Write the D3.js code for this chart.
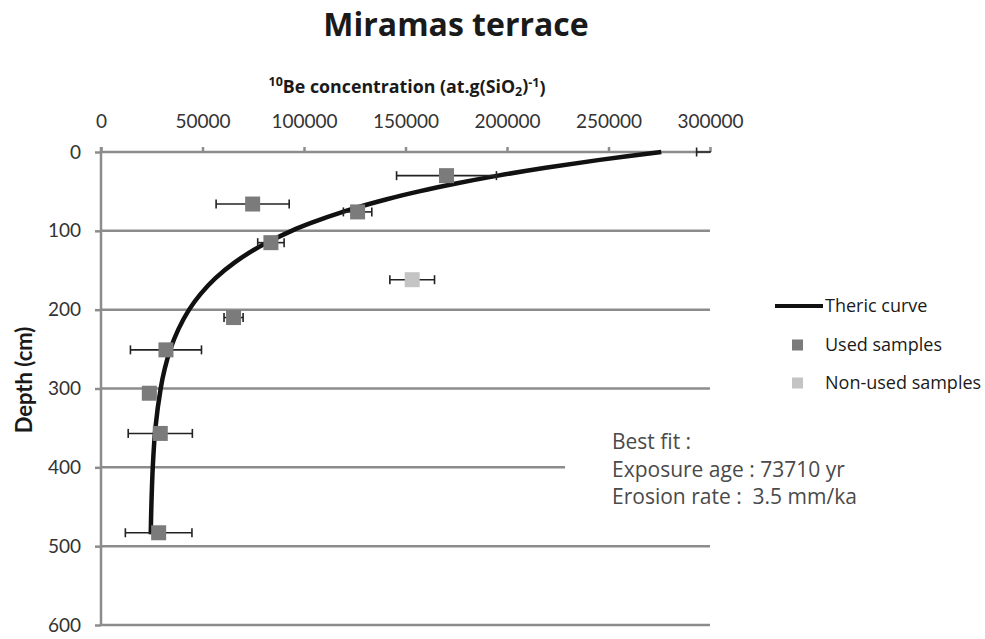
<!DOCTYPE html>
<html>
<head>
<meta charset="utf-8">
<title>Miramas terrace</title>
<script src="https://cdn.jsdelivr.net/npm/d3@7"></script>
<style>
    body { margin: 0; background: #fff; }
    #chart-area { width: 985px; height: 639px; }
    .axis path { display: none; }
    .axis line { stroke: #8c8c8c; stroke-width: 2.5px; }
    .axis text { font-family: Lato, sans-serif; font-size: 19px; fill: #333; }
</style>
</head>
<body>
<div id="chart-area"></div>
<script>

// tick values
let xTicks = [0, 50000, 100000, 150000, 200000, 250000, 300000];
let yTicks = [0, 100, 200, 300, 400, 500, 600];

// used samples (depth in cm, 10Be concentration, error)
let usedDepth = [0, 30, 66, 76, 115, 210, 251, 306, 357, 483];
let usedConc = [310000, 170200, 74700, 126400, 83700, 65300, 32000, 23800, 29200, 28400];
let usedErr = [16600, 24600, 18000, 7000, 6500, 4700, 17500, 3000, 15800, 16400];

// non-used samples
let nonUsedDepth = [162];
let nonUsedConc = [153300];
let nonUsedErr = [11000];

// theoretical curve
let curveDepth = [0, 10, 20, 30, 40, 50, 60, 75, 90, 100, 120, 140, 160, 180, 200, 225, 250, 275, 300, 350, 400, 450, 485];
let curveConc = [276000, 245700, 219000, 195500, 174900, 156700, 140800, 120300, 103500, 93900, 78100, 65900, 56400, 49100, 43400, 38100, 34200, 31400, 29400, 26800, 25500, 24800, 24500];

let legendItems = ["Theric curve", "Used samples", "Non-used samples"];
let fitLines = ["Best fit :", "Exposure age : 73710 yr", "Erosion rate :  3.5 mm/ka"];


class DepthProfile {

    constructor(parentElement) {
        this.parentElement = parentElement;

        this.used = usedDepth.map((d, i) => ({depth: d, conc: usedConc[i], err: usedErr[i]}));
        this.nonUsed = nonUsedDepth.map((d, i) => ({depth: d, conc: nonUsedConc[i], err: nonUsedErr[i]}));
        this.curve = curveDepth.map((d, i) => ({depth: d, conc: curveConc[i]}));

        this.initVis();
    }

    initVis() {
        let vis = this;

        vis.width = 985;
        vis.height = 639;

        vis.svg = d3.select("#" + vis.parentElement).append("svg")
            .attr("width", vis.width)
            .attr("height", vis.height);

        // scales - concentration along the top, depth going down
        vis.x = d3.scaleLinear().domain([0, 300000]).range([101, 710]);
        vis.y = d3.scaleLinear().domain([0, 600]).range([152, 625]);

        vis.svg.append("defs").append("clipPath")
            .attr("id", "plot-clip")
            .append("rect")
            .attr("x", vis.x(0))
            .attr("y", vis.y(0) - 10)
            .attr("width", vis.x(300000) - vis.x(0) + 1)
            .attr("height", vis.y(600) - vis.y(0) + 20);

        // horizontal gridlines
        vis.svg.append("g")
            .attr("class", "grid")
            .selectAll("line")
            .data(yTicks)
            .enter()
            .append("line")
            .attr("x1", vis.x(0))
            .attr("x2", vis.x(300000))
            .attr("y1", d => vis.y(d))
            .attr("y2", d => vis.y(d))
            .attr("stroke", "#8c8c8c")
            .attr("stroke-width", 2.5);

        // vertical axis line
        vis.svg.append("line")
            .attr("x1", vis.x(0))
            .attr("x2", vis.x(0))
            .attr("y1", vis.y(0) - 5)
            .attr("y2", vis.y(600))
            .attr("stroke", "#8c8c8c")
            .attr("stroke-width", 2.5);

        vis.xAxis = d3.axisTop(vis.x).tickValues(xTicks).tickSize(5).tickPadding(19).tickFormat(d3.format("d"));
        vis.yAxis = d3.axisLeft(vis.y).tickValues(yTicks).tickSize(6).tickPadding(14).tickFormat(d3.format("d"));

        vis.svg.append("g")
            .attr("class", "x-axis axis")
            .attr("transform", `translate(0, ${vis.y(0)})`)
            .call(vis.xAxis);

        vis.svg.append("g")
            .attr("class", "y-axis axis")
            .attr("transform", `translate(${vis.x(0)}, 0)`)
            .call(vis.yAxis);

        // titles
        vis.svg.append("text")
            .attr("x", 456)
            .attr("y", 36)
            .attr("text-anchor", "middle")
            .style("font-family", "'Open Sans', sans-serif")
            .style("font-weight", "bold")
            .style("font-size", "32px")
            .style("fill", "#1a1a1a")
            .text("Miramas terrace");

        let xTitle = vis.svg.append("text")
            .attr("x", 407)
            .attr("y", 91)
            .attr("text-anchor", "middle")
            .style("font-family", "'Open Sans', sans-serif")
            .style("font-weight", "bold")
            .style("font-size", "17.8px")
            .style("fill", "#1a1a1a");
        xTitle.append("tspan").attr("dy", "-0.4em").style("font-size", "12.5px").text("10");
        xTitle.append("tspan").attr("dy", "0.4em").text("Be concentration  (at.g(SiO");
        xTitle.append("tspan").attr("dy", "0.25em").style("font-size", "12.5px").text("2");
        xTitle.append("tspan").attr("dy", "-0.25em").text(")");
        xTitle.append("tspan").attr("dy", "-0.4em").style("font-size", "12.5px").text("-1");
        xTitle.append("tspan").attr("dy", "0.4em").text(")");

        vis.svg.append("text")
            .attr("transform", "translate(32, 380) rotate(-90)")
            .attr("text-anchor", "middle")
            .style("font-family", "Lato, sans-serif")
            .style("font-weight", "bold")
            .style("font-size", "22px")
            .style("fill", "#1a1a1a")
            .text("Depth (cm)");

        vis.plot = vis.svg.append("g").attr("clip-path", "url(#plot-clip)");

        vis.wrangleData();
    }

    wrangleData() {
        let vis = this;

        vis.samples = vis.used.map(d => Object.assign({used: true}, d))
            .concat(vis.nonUsed.map(d => Object.assign({used: false}, d)));

        vis.updateVis();
    }

    updateVis() {
        let vis = this;

        let line = d3.line()
            .x(d => vis.x(d.conc))
            .y(d => vis.y(d.depth))
            .curve(d3.curveCatmullRom);

        vis.plot.append("path")
            .datum(vis.curve)
            .attr("d", line)
            .attr("fill", "none")
            .attr("stroke", "#111")
            .attr("stroke-width", 4.5);

        // error bars
        let bars = vis.plot.selectAll(".err")
            .data(vis.samples)
            .enter()
            .append("g")
            .attr("class", "err")
            .attr("stroke", "#222")
            .attr("stroke-width", 1.6);

        bars.append("line")
            .attr("x1", d => vis.x(d.conc - d.err))
            .attr("x2", d => vis.x(d.conc + d.err))
            .attr("y1", d => vis.y(d.depth))
            .attr("y2", d => vis.y(d.depth));

        [-1, 1].forEach(side => {
            bars.append("line")
                .attr("x1", d => vis.x(d.conc + side * d.err))
                .attr("x2", d => vis.x(d.conc + side * d.err))
                .attr("y1", d => vis.y(d.depth) - 4.5)
                .attr("y2", d => vis.y(d.depth) + 4.5);
        });

        // sample markers
        vis.plot.selectAll(".sample")
            .data(vis.samples)
            .enter()
            .append("rect")
            .attr("class", "sample")
            .attr("x", d => vis.x(d.conc) - 7.5)
            .attr("y", d => vis.y(d.depth) - 7.5)
            .attr("width", 15)
            .attr("height", 15)
            .attr("fill", d => d.used ? "#7b7b7b" : "#c4c4c4");

        // legend
        let legend = vis.svg.append("g").attr("class", "legend");
        let legendY = [306, 345, 383];

        legend.append("line")
            .attr("x1", 775).attr("x2", 823)
            .attr("y1", legendY[0]).attr("y2", legendY[0])
            .attr("stroke", "#111")
            .attr("stroke-width", 4);

        legend.selectAll(".legend-box")
            .data(["#7b7b7b", "#c4c4c4"])
            .enter()
            .append("rect")
            .attr("class", "legend-box")
            .attr("x", 792)
            .attr("y", (d, i) => legendY[i + 1] - 5.5)
            .attr("width", 11)
            .attr("height", 11)
            .attr("fill", d => d);

        legend.selectAll(".legend-label")
            .data(legendItems)
            .enter()
            .append("text")
            .attr("class", "legend-label")
            .attr("x", 825)
            .attr("y", (d, i) => legendY[i])
            .attr("dy", "0.35em")
            .style("font-family", "'Open Sans', sans-serif")
            .style("font-size", "18px")
            .style("fill", "#1a1a1a")
            .text(d => d);

        // best fit text box (white background hides the gridline behind it)
        vis.svg.append("rect")
            .attr("x", 565)
            .attr("y", 412)
            .attr("width", 340)
            .attr("height", 112)
            .attr("fill", "#fff");

        vis.svg.append("g")
            .selectAll("text")
            .data(fitLines)
            .enter()
            .append("text")
            .attr("x", 612)
            .attr("y", (d, i) => 442 + i * 27.5)
            .attr("dy", "0.35em")
            .style("font-family", "'Open Sans', sans-serif")
            .style("font-size", "21px")
            .style("fill", "#4a4a4a")
            .style("white-space", "pre")
            .text(d => d);
    }
}

new DepthProfile("chart-area");

</script>
</body>
</html>
